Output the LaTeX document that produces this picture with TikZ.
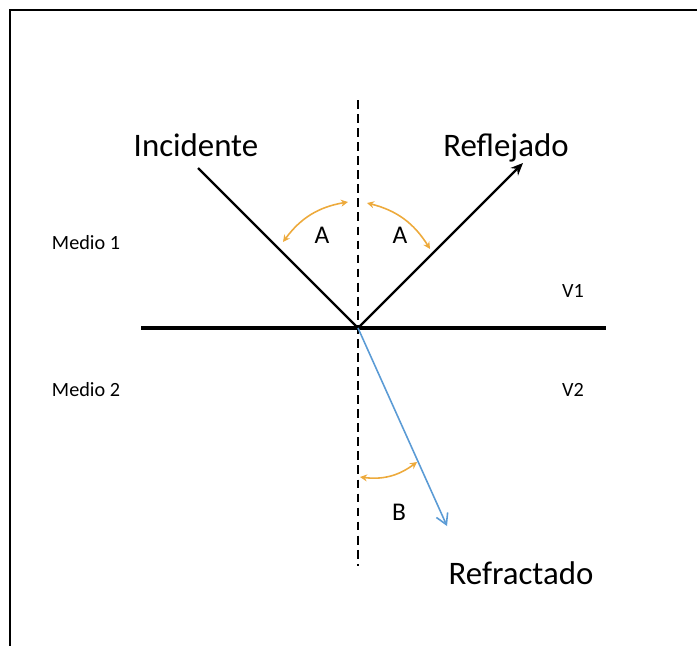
\documentclass[tikz,border=0pt]{standalone}
\usepackage{fontspec}
\setmainfont{Carlito}
\usetikzlibrary{arrows.meta}
\definecolor{arcorange}{RGB}{237,170,60}
\definecolor{rayblue}{RGB}{91,155,213}
\begin{document}
\begin{tikzpicture}[x=0.02cm,y=-0.02cm]
    \tikzset{bigtext/.style={inner sep=0pt,anchor=base,font=\fontsize{18.7}{22}\selectfont}}
    \tikzset{smalltext/.style={inner sep=0pt,anchor=base,font=\fontsize{11.5}{14}\selectfont}}
    \tikzset{angletext/.style={inner sep=0pt,anchor=base,font=\fontsize{14.5}{17}\selectfont}}
    \tikzset{ray/.style={line width=1.4pt}}
    \tikzset{anglearc/.style={draw=arcorange,line width=0.9pt,{Stealth[length=4pt,width=4pt]}-{Stealth[length=4pt,width=4pt]}}}

    \useasboundingbox (0,0) rectangle (697,646);
    \draw[line width=1.1pt] (10,646) -- (10,10) -- (697,10);

    \coordinate (O) at (358,328);
    \coordinate (ntop) at (358,100);
    \coordinate (nbot) at (358,566);
    \coordinate (sleft) at (141,328);
    \coordinate (sright) at (606,328);
    \coordinate (inc0) at (198,168);
    \coordinate (refl1) at (523,163);
    \coordinate (refr1) at (447,526);

    \coordinate (a1) at (283,242);
    \coordinate (a2) at (348,202);
    \coordinate (a3) at (367,203);
    \coordinate (a4) at (430,249);
    \coordinate (b1) at (360,477);
    \coordinate (b2) at (417,462);

    \node[bigtext] (incidente) at (196,156) {Incidente};
    \node[bigtext] (reflejado) at (506,156) {Reflejado};
    \node[bigtext] (refractado) at (521,584) {Refractado};

    \node[smalltext] (medio1) at (86,249) {Medio 1};
    \node[smalltext] (medio2) at (86,396) {Medio 2};
    \node[smalltext] (v1) at (573,297) {V1};
    \node[smalltext] (v2) at (573,396) {V2};

    \node[angletext] (angA1) at (322,243) {A};
    \node[angletext] (angA2) at (400,243) {A};
    \node[angletext] (angB) at (399,520) {B};

    \draw[line width=0.8pt,dash pattern=on 5pt off 3pt] (ntop) -- (nbot);
    \draw[line width=2.8pt] (sleft) -- (sright);
    \draw[ray] (inc0) -- (O);
    \draw[ray,-{Stealth[length=7pt,width=6pt]}] (O) -- (refl1);
    \draw[rayblue,line width=0.9pt,-{Straight Barb[length=6pt,width=7pt]}] (O) -- (refr1);

    \begin{scope}[every path/.style={anglearc}]
       \draw (a1) to[bend left=22] (a2);
       \draw (a3) to[bend left=22] (a4);
       \draw (b1) to[bend right=22] (b2);
    \end{scope}
\end{tikzpicture}
\end{document}
